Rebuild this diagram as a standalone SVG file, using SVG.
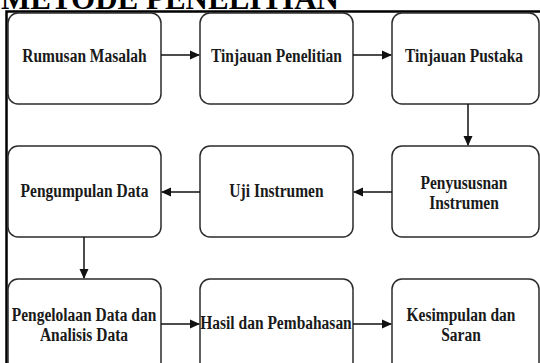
<svg xmlns="http://www.w3.org/2000/svg" width="540" height="363" viewBox="0 0 540 363">
<defs>
<style>
.box{fill:#ffffff;stroke:#2b2b2b;stroke-width:1.5}
.t{font-family:"Liberation Serif","Times New Roman",serif;font-weight:bold;font-size:15.5px;fill:#1a1a1a;text-anchor:middle}
.title{font-family:"Liberation Serif","Times New Roman",serif;font-weight:bold;font-size:31px;fill:#000}
.c{stroke:#111;stroke-width:1.5;fill:none;marker-end:url(#ah)}
.frame{stroke:#000;stroke-width:2.5;fill:none}
</style>
<marker id="ah" markerWidth="10" markerHeight="10" refX="9" refY="5" orient="auto" markerUnits="userSpaceOnUse">
<path d="M0,0.5 L10,5 L0,9.5 Z" fill="#111"/>
</marker>
</defs>
<rect width="540" height="363" fill="#fff"/>
<text class="title" x="1" y="9">METODE PENELITIAN</text>
<path class="frame" d="M6.5,363 V11.5 H540"/>
<g id="n1"><rect class="box" x="8" y="13" width="153" height="91" rx="10"/><text class="t" x="84.5" y="62" transform="matrix(1,0,0,1.2,0,-12.4)">Rumusan Masalah</text></g>
<g id="n2"><rect class="box" x="200" y="13" width="153" height="91" rx="10"/><text class="t" x="276.5" y="62" transform="matrix(1,0,0,1.2,0,-12.4)">Tinjauan Penelitian</text></g>
<g id="n3"><rect class="box" x="392" y="13" width="147" height="91" rx="10"/><text class="t" x="464" y="62" transform="matrix(1,0,0,1.2,0,-12.4)">Tinjauan Pustaka</text></g>
<g id="n4"><rect class="box" x="392" y="146" width="147" height="91" rx="10"/><text class="t" x="464" y="189" transform="matrix(1,0,0,1.2,0,-37.8)">Penyususnan</text><text class="t" x="464" y="209" transform="matrix(1,0,0,1.2,0,-41.8)">Instrumen</text></g>
<g id="n5"><rect class="box" x="200" y="146" width="153" height="91" rx="10"/><text class="t" x="276.5" y="197" transform="matrix(1,0,0,1.2,0,-39.4)">Uji Instrumen</text></g>
<g id="n6"><rect class="box" x="8" y="146" width="153" height="91" rx="10"/><text class="t" x="84.5" y="197" transform="matrix(1,0,0,1.2,0,-39.4)">Pengumpulan Data</text></g>
<g id="n7"><rect class="box" x="8" y="279" width="153" height="95" rx="10"/><text class="t" x="84" y="321" transform="matrix(1,0,0,1.2,0,-64.2)">Pengelolaan Data dan</text><text class="t" x="84" y="341" transform="matrix(1,0,0,1.2,0,-68.2)">Analisis Data</text></g>
<g id="n8"><rect class="box" x="200" y="279" width="153" height="95" rx="10"/><text class="t" x="276" y="329" transform="matrix(1,0,0,1.2,0,-65.8)">Hasil dan Pembahasan</text></g>
<g id="n9"><rect class="box" x="392" y="279" width="147" height="95" rx="10"/><text class="t" x="461" y="321" transform="matrix(1,0,0,1.2,0,-64.2)">Kesimpulan dan</text><text class="t" x="461" y="341" transform="matrix(1,0,0,1.2,0,-68.2)">Saran</text></g>
<g id="connectors">
<line class="c" x1="161" y1="55" x2="199" y2="55"/>
<line class="c" x1="353" y1="55" x2="391" y2="55"/>
<line class="c" x1="468" y1="104" x2="468" y2="145"/>
<line class="c" x1="392" y1="192" x2="354" y2="192"/>
<line class="c" x1="200" y1="192" x2="162" y2="192"/>
<line class="c" x1="84" y1="237" x2="84" y2="278"/>
<line class="c" x1="161" y1="324" x2="199" y2="324"/>
<line class="c" x1="353" y1="324" x2="391" y2="324"/>
</g>
</svg>
